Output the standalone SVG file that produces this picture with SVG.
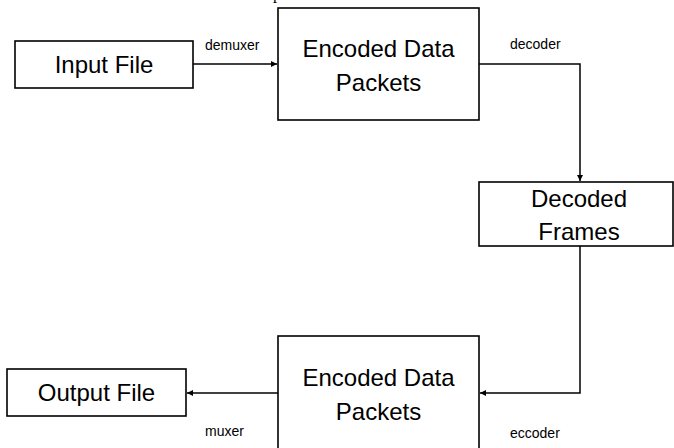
<svg xmlns="http://www.w3.org/2000/svg" width="674" height="448" viewBox="0 0 674 448">
  <style>
    .box { fill: #ffffff; stroke: #000000; stroke-width: 1.6; }
    .label { font-family: "Liberation Sans", Arial, sans-serif; font-size: 24px; fill: #000000; text-anchor: middle; }
    .edge { fill: none; stroke: #000000; stroke-width: 1.5; }
    .edge-label { font-family: "Liberation Sans", Arial, sans-serif; font-size: 14px; fill: #000000; }
  </style>
  <defs>
    <marker id="arrow" viewBox="0 0 10 10" refX="10" refY="5" markerWidth="6" markerHeight="6" markerUnits="userSpaceOnUse" orient="auto">
      <path d="M0,0 L10,5 L0,10 z" fill="#000000"/>
    </marker>
  </defs>
  <rect width="674" height="448" fill="#ffffff"/>

  <!-- stray descender at the top edge -->
  <text x="273" y="-1" font-family="'Liberation Serif', 'Times New Roman', serif" font-size="16" fill="#000000">p</text>

  <g id="connectors">
    <path class="edge" d="M193,64 H277" marker-end="url(#arrow)"/>
    <path class="edge" d="M479,64 H580 V181" marker-end="url(#arrow)"/>
    <path class="edge" d="M580,246 V393 H480" marker-end="url(#arrow)"/>
    <path class="edge" d="M278,393 H187" marker-end="url(#arrow)"/>
    <text class="edge-label" x="205" y="50">demuxer</text>
    <text class="edge-label" x="510" y="49">decoder</text>
    <text class="edge-label" x="510" y="438">eccoder</text>
    <text class="edge-label" x="205" y="436">muxer</text>
  </g>

  <g id="input-file">
    <rect class="box" x="15" y="41" width="178" height="47"/>
    <text class="label" x="104" y="73">Input File</text>
  </g>

  <g id="encoded-packets-in">
    <rect class="box" x="278" y="8" width="201" height="112"/>
    <text class="label" x="378.5" y="57">Encoded Data</text>
    <text class="label" x="378.5" y="91">Packets</text>
  </g>

  <g id="decoded-frames">
    <rect class="box" x="479" y="182" width="194" height="64"/>
    <text class="label" x="579" y="207">Decoded</text>
    <text class="label" x="579" y="240">Frames</text>
  </g>

  <g id="encoded-packets-out">
    <rect class="box" x="278" y="336" width="201" height="116"/>
    <text class="label" x="378.5" y="386">Encoded Data</text>
    <text class="label" x="378.5" y="420">Packets</text>
  </g>

  <g id="output-file">
    <rect class="box" x="7" y="369" width="179" height="47"/>
    <text class="label" x="96.5" y="401">Output File</text>
  </g>
</svg>
